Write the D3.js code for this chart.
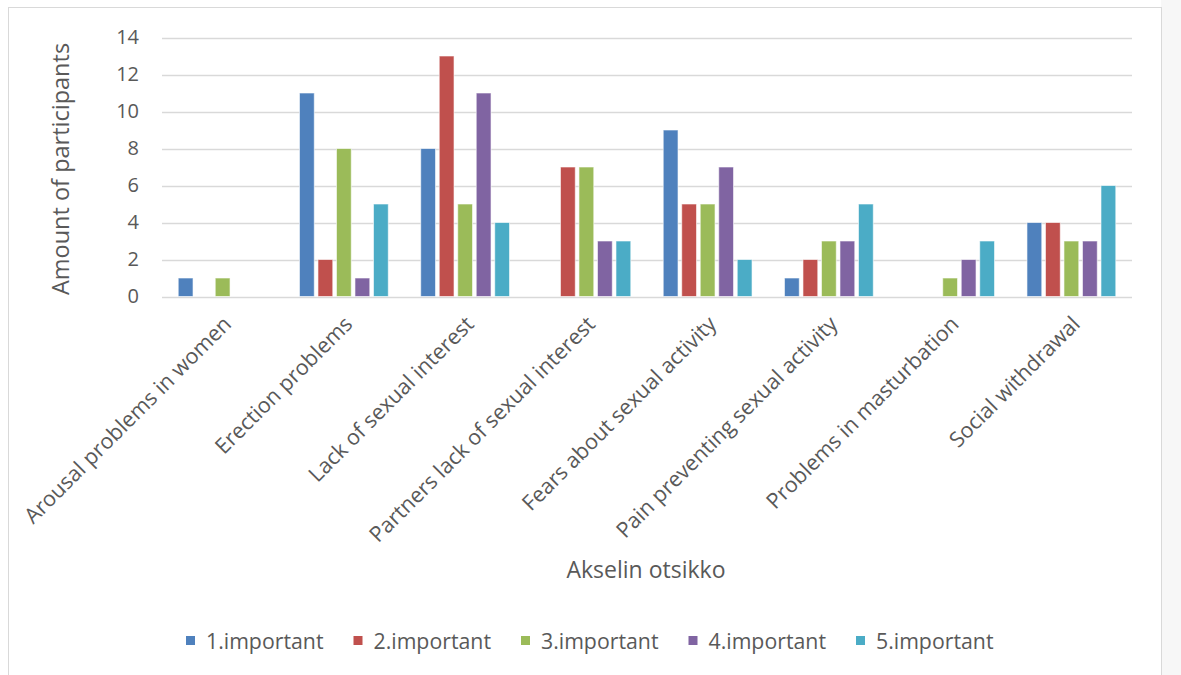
<!DOCTYPE html>
<html><head><meta charset="utf-8">
<script src="https://cdn.jsdelivr.net/npm/d3@7"></script>
<style>
html,body{margin:0;padding:0;background:#fff;}
svg{display:block;font-family:"Open Sans",sans-serif;}
</style></head>
<body>
<svg id="chart" width="1181" height="675"></svg>
<script>
const categories = ["Arousal problems in women","Erection problems","Lack of sexual interest","Partners lack of sexual interest","Fears about sexual activity","Pain preventing sexual activity","Problems in masturbation","Social withdrawal"];
const seriesNames = ["1.important","2.important","3.important","4.important","5.important"];
const s1 = [1,11,8,0,9,1,0,4];
const s2 = [0,2,13,7,5,2,0,4];
const s3 = [1,8,5,7,5,3,1,3];
const s4 = [0,1,11,3,7,3,2,3];
const s5 = [0,5,4,3,2,5,3,6];
const yTicks = [0,2,4,6,8,10,12,14];
const colors = ["#4F81BD","#C0504D","#9BBB59","#8064A2","#4BACC6"];
const seriesValues = [s1,s2,s3,s4,s5];

const FONT = "'Open Sans',sans-serif";
const svg = d3.select("#chart");
svg.append("rect").attr("x",1161).attr("y",0).attr("width",20).attr("height",675).attr("fill","#f7f7f7");
svg.append("rect").attr("x",8.5).attr("y",7.5).attr("width",1153).attr("height",680).attr("fill","#fff").attr("stroke","#d9d9d9").attr("stroke-width",1);

const pL=162, pR=1132, pT=37.5, pB=296.5;
const x0 = d3.scaleBand().domain(categories).range([pL,pR]).paddingInner(0).paddingOuter(0);
const groupW = x0.bandwidth()*0.763;
const x1 = d3.scaleBand().domain(seriesNames).range([0,groupW]).paddingInner(0.2).paddingOuter(0.1);
const y = d3.scaleLinear().domain([0,14]).range([pB,pT]);

svg.append("g").selectAll("line").data(yTicks).join("line")
  .attr("x1",pL).attr("x2",pR).attr("y1",d=>Math.round(y(d))+0.5).attr("y2",d=>Math.round(y(d))+0.5)
  .attr("stroke","#d9d9d9").attr("stroke-width",1.3);

const yAxis = d3.axisLeft(y).tickValues(yTicks).tickSize(0).tickPadding(0);
const gy = svg.append("g").attr("transform",`translate(${139},0)`).call(yAxis);
gy.select(".domain").remove();
gy.selectAll("text").attr("fill","#595959").style("font-size","20px").style("font-family",FONT);

const data = [];
categories.forEach((c,i)=>seriesNames.forEach((s,j)=>data.push({c,s,j,v:seriesValues[j][i]})));
const offset = (x0.bandwidth()-groupW)/2;
svg.append("g").selectAll("rect").data(data.filter(d=>d.v>0)).join("rect")
  .attr("x",d=>x0(d.c)+offset+x1(d.s))
  .attr("y",d=>y(d.v))
  .attr("width",x1.bandwidth())
  .attr("height",d=>y(0)-y(d.v))
  .attr("fill",d=>colors[d.j])
  .attr("stroke","#ffffff").attr("stroke-opacity",0.6).attr("stroke-width",1);

const xAxis = d3.axisBottom(x0).tickSize(0).tickPadding(0);
const gx = svg.append("g").attr("transform",`translate(0,${pB})`).call(xAxis);
gx.select(".domain").remove();
gx.selectAll("text")
  .attr("fill","#595959").style("font-size","21.5px").style("font-family",FONT)
  .attr("text-anchor","end").attr("dy",null).attr("y",0)
  .attr("transform","translate(10,29) rotate(-45)");

svg.append("text").attr("transform",`translate(69,${(pT+pB)/2 + 2}) rotate(-90)`)
  .attr("text-anchor","middle").attr("fill","#595959").style("font-size","23.5px").text("Amount of participants");
svg.append("text").attr("x",646).attr("y",578).attr("text-anchor","middle").attr("fill","#595959").style("font-size","23px").text("Akselin otsikko");

const lg = svg.append("g").selectAll("g").data(seriesNames).join("g")
  .attr("transform",(d,i)=>`translate(${186+i*167.5},641)`);
lg.append("rect").attr("x",0).attr("y",-5).attr("width",9).attr("height",9).attr("fill",(d,i)=>colors[i]);
lg.append("text").attr("x",20).attr("y",7.5).attr("fill","#595959").style("font-size","21.3px").text(d=>d);
</script>
</body></html>
